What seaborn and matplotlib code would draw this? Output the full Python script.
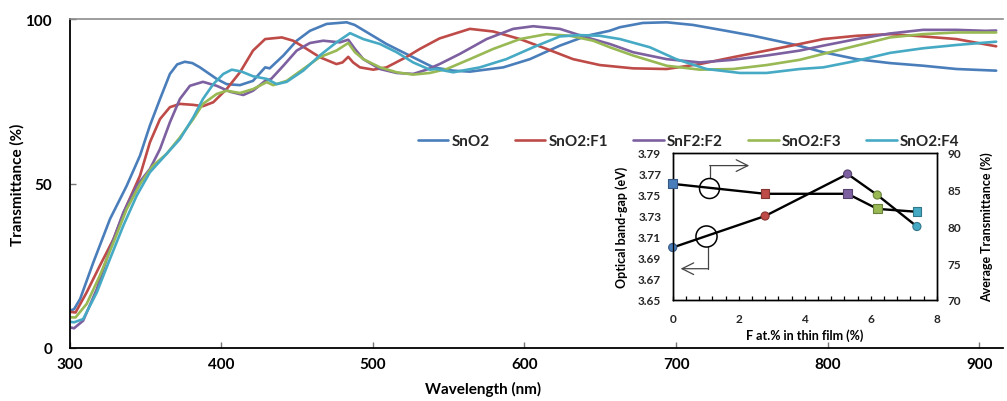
import matplotlib
matplotlib.use("Agg")
import matplotlib.pyplot as plt
from matplotlib.ticker import MultipleLocator
import matplotlib.colors as mcolors
import numpy as np
import pandas as pd
import seaborn as sns

# ---- transmittance spectra ----
samples = ["SnO2", "SnO2:F1", "SnF2:F2", "SnO2:F3", "SnO2:F4"]
colors = ["#4A7EBB", "#BE4B48", "#7D60A0", "#98B954", "#46AAC5"]

wl_sno2 = [300, 303, 307, 315.7, 326.7, 337.7, 346.5, 353, 359.7, 366.2, 371, 376, 381, 386,
           397, 403.6, 412.4, 421, 429, 432, 441, 449.8, 458.5, 469.5, 482.7, 488, 496, 509,
           522, 535.5, 540, 553, 564, 586, 603.6, 623.3, 641, 656, 662.9, 678, 693.7, 711,
           733, 750.8, 766, 779, 797, 819, 841, 862.8, 884.8, 911]
t_sno2 = [11.3, 11.8, 14.9, 26.0, 39.2, 49.3, 58.5, 67.6, 75.7, 83.3, 86.2, 87.0, 86.6, 85.3,
          81.8, 80.2, 79.9, 81.2, 85.3, 85.0, 88.9, 93.4, 96.4, 98.5, 99.0, 98.2, 96.0, 92.4,
          89.4, 86.3, 85.3, 84.3, 84.0, 85.3, 87.8, 91.9, 94.9, 96.4, 97.5, 98.8, 99.0, 98.2,
          96.4, 94.9, 93.4, 92.1, 89.9, 87.8, 86.6, 85.8, 84.8, 84.3]

wl_f1 = [300, 304, 311.3, 320, 329, 337.7, 346.5, 353, 359.7, 366.2, 372.8, 381.6, 388, 394.8,
         403.6, 412.4, 421, 429, 440, 447.5, 456.4, 465, 476, 480, 483.8, 487, 491.5, 500.3,
         509, 522, 531, 544, 564, 579.4, 597, 614.6, 632, 649.7, 671.6, 693.7, 715.6, 737.6,
         759.6, 781.5, 797, 819, 841, 862.8, 884.8, 911]
t_f1 = [11.0, 10.8, 16.9, 25.0, 33.1, 43.3, 52.4, 62.5, 69.6, 73.2, 74.2, 73.9, 73.5, 74.7,
        78.7, 83.8, 90.4, 93.9, 94.4, 93.4, 90.9, 88.4, 86.3, 86.8, 88.5, 86.8, 85.3, 84.6,
        85.3, 88.4, 90.9, 94.1, 97.0, 96.2, 93.9, 90.9, 87.8, 86.0, 85.0, 84.8, 86.3, 88.4,
        90.4, 92.4, 93.9, 94.9, 95.4, 94.7, 93.9, 91.7]

wl_f2 = [300, 303, 309, 318, 326.7, 335.5, 344.3, 353, 359.7, 366.2, 372.8, 379.4, 388, 397,
         405.8, 414.6, 421, 429, 433, 441, 449.8, 458.5, 467.3, 478.3, 483.8, 488.2, 493.7,
         504.7, 515.7, 526.6, 535.5, 544, 557.4, 575, 592.5, 605.7, 623.3, 641, 656.3, 671.6,
         693.7, 715.6, 737.6, 759.6, 781.5, 797, 819, 841, 862.8, 884.8, 904, 911]
t_f2 = [6.3, 6.0, 8.3, 17.9, 30.1, 41.2, 49.3, 54.4, 60.5, 68.6, 75.7, 79.7, 80.9, 79.7,
        77.9, 76.9, 78.2, 81.2, 81.8, 85.8, 90.4, 92.7, 93.4, 92.9, 93.7, 90.9, 87.8,
        84.8, 83.6, 83.3, 84.6, 86.3, 89.4, 93.9, 97.0, 97.8, 97.0, 94.4, 92.4, 89.9,
        87.8, 86.8, 87.6, 88.9, 90.4, 91.9, 93.9, 95.6, 96.7, 96.7, 96.4, 96.5]

wl_f3 = [300, 304, 311.3, 320, 329, 337.7, 346.5, 355, 364, 372.8, 381.6, 388, 397, 403.6,
         412.4, 421, 430, 434.3, 443.2, 454.1, 465, 476, 483.8, 488.2, 493.7, 504.7, 515.7,
         526.6, 537.6, 548.7, 564, 579.4, 597, 614.6, 630, 645.3, 656.3, 671.6, 693.7, 715.6,
         737.6, 759.6, 781.5, 797, 819, 841, 862.8, 884.8, 911]
t_f3 = [9.3, 9.3, 13.4, 22.0, 32.1, 42.2, 49.8, 55.4, 59.0, 64.0, 69.6, 74.2, 77.2, 78.2,
        77.5, 78.7, 80.8, 79.9, 81.2, 84.8, 88.4, 90.4, 92.7, 89.9, 87.8, 85.3, 83.8,
        83.1, 83.6, 84.8, 87.8, 90.9, 93.9, 95.4, 94.9, 93.4, 91.4, 88.9, 85.8, 84.6,
        84.8, 86.0, 87.6, 89.4, 91.9, 94.4, 95.4, 95.9, 95.9]

wl_f4 = [300, 303, 309, 318, 326.7, 335.5, 344.3, 353, 364, 372.8, 381.6, 388, 394.8, 401.4,
         407, 413.5, 421, 430, 436.6, 443.2, 454.1, 465, 476, 485, 493.7, 504.7, 515.7, 526.6,
         537.6, 542, 553, 570.6, 588, 605.7, 623.3, 636.5, 649.7, 663, 682.7, 700, 720, 742,
         759.6, 781.5, 797, 819, 841, 862.8, 884.8, 911]
t_f4 = [8.0, 7.8, 8.8, 16.9, 27.1, 37.2, 46.3, 53.4, 59.0, 63.5, 70.1, 75.7, 80.2, 83.3,
        84.6, 84.0, 82.6, 81.8, 80.2, 80.9, 84.3, 88.9, 92.9, 95.7, 93.9, 92.4, 89.9, 86.8,
        84.6, 84.8, 83.8, 85.3, 87.8, 91.4, 94.7, 95.1, 94.9, 93.9, 91.4, 87.8, 84.8, 83.6,
        83.6, 84.8, 85.3, 87.3, 89.7, 91.1, 92.1, 93.1]

x_ticks = [300, 400, 500, 600, 700, 800, 900]
y_ticks = [0, 50, 100]

# ---- inset: band gap and average transmittance vs F content ----
f_content = [0, 2.8, 5.3, 6.2, 7.4]
band_gap = [3.70, 3.73, 3.77, 3.75, 3.72]
avg_trans = [85.8, 84.45, 84.45, 82.4, 82.0]
bg_ticks = [3.65, 3.67, 3.69, 3.71, 3.73, 3.75, 3.77, 3.79]
at_ticks = [70, 75, 80, 85, 90]
f_ticks = [0, 2, 4, 6, 8]

sns.set_theme(style="white")
plt.rcParams["font.family"] = ["Lato", "DejaVu Sans"]
plt.rcParams["font.weight"] = "bold"
plt.rcParams["axes.labelweight"] = "bold"

W, H = 1007, 402
fig = plt.figure(figsize=(W / 100, H / 100), dpi=100)
ax = fig.add_axes([69.5 / W, 1 - 349 / H, (1003 - 69.5) / W, (349 - 20) / H])

df = pd.concat([
    pd.DataFrame({"Wavelength": wl, "T": t, "Sample": name})
    for name, wl, t in zip(samples, [wl_sno2, wl_f1, wl_f2, wl_f3, wl_f4],
                           [t_sno2, t_f1, t_f2, t_f3, t_f4])
])
sns.lineplot(data=df, x="Wavelength", y="T", hue="Sample", hue_order=samples,
             palette=colors, estimator=None, sort=False, lw=1.9, ax=ax)

ax.set_xlim(300, 915.5)
ax.set_ylim(0, 100)
ax.set_xticks(x_ticks)
ax.set_yticks(y_ticks)
ax.tick_params(axis="both", direction="in", length=4, width=1, color="#777777",
               labelsize=11, labelcolor="black", bottom=True, left=True)
ax.tick_params(axis="x", pad=6.5)
ax.tick_params(axis="y", pad=12.5)
for s in ["left", "bottom"]:
    ax.spines[s].set_color("black")
    ax.spines[s].set_linewidth(1.3)
ax.spines["top"].set_color("#8c8c8c")
ax.spines["top"].set_linewidth(1.2)
ax.spines["right"].set_visible(False)

ax.set_xlabel("Wavelength (nm)", fontsize=11, color="black")
ax.xaxis.set_label_coords(0.443, -0.10)
ax.set_ylabel("Transmittance (%)", fontsize=11, color="black")
ax.yaxis.set_label_coords(-0.048, 0.5)

handles, labels = ax.get_legend_handles_labels()
ax.legend(handles, labels, ncol=5, loc="center left", bbox_to_anchor=(0.373, 0.629),
          frameon=False, handlelength=2.0, handletextpad=0.2, columnspacing=1.65,
          borderpad=0, borderaxespad=0, prop={"size": 11, "weight": "bold"})

# ---- inset ----
ax_in = fig.add_axes([672.7 / W, 1 - 301 / H, 264 / W, 147 / H])
ax_in.set_facecolor("white")
edge = [tuple(np.array(mcolors.to_rgb(c)) * 0.7) for c in colors]

sns.lineplot(x=f_content, y=band_gap, color="black", lw=1.7, ax=ax_in, zorder=2)
sns.scatterplot(x=f_content, y=band_gap, hue=samples, hue_order=samples, palette=colors,
                marker="o", s=34, linewidth=0.8, legend=False, ax=ax_in, zorder=3)
ax_in.collections[-1].set_edgecolor(edge)
ax_in.collections[-1].set_clip_on(False)

ax_in.set_xlim(0, 8)
ax_in.set_ylim(3.65, 3.79)
ax_in.set_xticks(f_ticks)
ax_in.xaxis.set_minor_locator(MultipleLocator(0.4))
ax_in.set_yticks(bg_ticks)
ax_in.set_yticklabels([f"{v:.2f}" for v in bg_ticks])
ax_in.tick_params(axis="x", which="both", direction="in", length=3, width=0.9,
                  color="black", bottom=True, labelsize=8.5, pad=9.5)
ax_in.tick_params(axis="y", length=0, labelsize=8.5, pad=8.3)
for s in ax_in.spines.values():
    s.set_color("black")
    s.set_linewidth(1.0)
ax_in.set_xlabel("F at.% in thin film (%)", fontsize=9, color="black")
ax_in.xaxis.set_label_coords(0.5, -0.19)
ax_in.set_ylabel("Optical band-gap (eV)", fontsize=9, color="black")
ax_in.yaxis.set_label_coords(-0.169, 0.5)

# marker circles with pointer arrows identifying each curve's axis
circ_up = (1.1, 3.757)
circ_dn = (1.01, 3.711)
ax_in.plot(*circ_up, marker="o", ms=14.4, mfc="none", mec="black", mew=1.1, zorder=4)
ax_in.plot(*circ_dn, marker="o", ms=15.2, mfc="none", mec="black", mew=1.1, zorder=4)
ax_in.plot([1.12, 1.12], [3.7666, 3.778], color="#444444", lw=0.9)
ax_in.annotate("", xy=(2.32, 3.778), xytext=(1.12, 3.778),
               arrowprops=dict(arrowstyle="->,head_length=0.7,head_width=0.35",
                               lw=0.9, color="#444444", shrinkA=0, shrinkB=0,
                               mutation_scale=12))
ax_in.plot([1.06, 1.06], [3.7004, 3.6798], color="#444444", lw=0.9)
ax_in.annotate("", xy=(0.24, 3.6798), xytext=(1.06, 3.6798),
               arrowprops=dict(arrowstyle="->,head_length=0.7,head_width=0.35",
                               lw=0.9, color="#444444", shrinkA=0, shrinkB=0,
                               mutation_scale=12))

ax_r = ax_in.twinx()
sns.lineplot(x=f_content, y=avg_trans, color="black", lw=1.7, ax=ax_r, zorder=2)
sns.scatterplot(x=f_content, y=avg_trans, hue=samples, hue_order=samples, palette=colors,
                marker="s", s=40, linewidth=0.8, legend=False, ax=ax_r, zorder=3)
ax_r.collections[-1].set_edgecolor(edge)
ax_r.collections[-1].set_clip_on(False)
ax_r.set_ylim(70, 90)
ax_r.set_yticks(at_ticks)
ax_r.tick_params(axis="y", length=0, labelsize=8.5, pad=8, right=True)
ax_r.set_ylabel("Average Transmittance (%)", fontsize=9, color="black")
ax_r.yaxis.set_label_coords(1.164, 0.5)
for s in ax_r.spines.values():
    s.set_color("black")
    s.set_linewidth(1.0)

fig.savefig("out.png", dpi=100)
